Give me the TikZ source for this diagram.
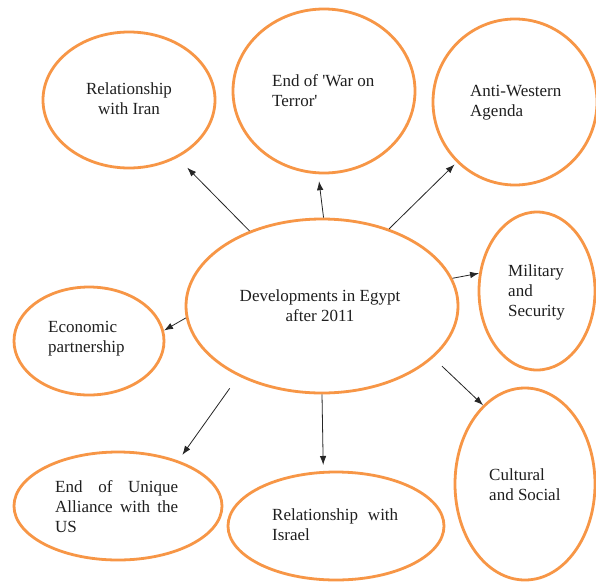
\documentclass[tikz,border=0pt]{standalone}
\usepackage{fontspec}
\setmainfont{Liberation Serif}
\usetikzlibrary{shapes.geometric,arrows.meta}
\definecolor{eorange}{RGB}{247,150,70}
\begin{document}
\begin{tikzpicture}[x=1pt,y=-1pt,
  bub/.style={ellipse,draw=eorange,line width=2.8pt,inner sep=0pt},
  txt/.style={inner sep=0pt,text=black!88,font=\fontsize{17}{20}\selectfont},
  arr/.style={-{Latex[length=9pt,width=6.5pt]},line width=0.8pt,draw=black!85}]
\useasboundingbox[fill=white] (0,0) rectangle (596,581);
\node[bub,minimum width=172pt,minimum height=136pt] (iran) at (129,100) {};
\node[txt,align=center] (iran-t) at (129,99) {Relationship\\with Iran};
\node[bub,minimum width=182pt,minimum height=164pt] (war) at (324,91) {};
\node[txt,align=left,anchor=west] (war-t) at (272,91) {End of \textquotesingle War on\\Terror\textquotesingle};
\node[bub,minimum width=164pt,minimum height=166pt] (anti) at (515,102) {};
\node[txt,align=left,anchor=west] (anti-t) at (470,103) {Anti-Western\\Agenda};
\node[bub,minimum width=116pt,minimum height=158pt] (mil) at (537,291) {};
\node[txt,align=left,anchor=west] (mil-t) at (508,292) {Military\\and\\Security};
\node[bub,minimum width=272pt,minimum height=174pt] (c) at (322,306) {};
\node[txt,align=center] (c-t) at (320,306) {Developments in Egypt\\after 2011};
\node[bub,minimum width=150pt,minimum height=108pt] (econ) at (89,341) {};
\node[txt,align=left,anchor=west] (econ-t) at (48,339) {Economic\\partnership};
\node[bub,minimum width=208pt,minimum height=108pt] (uniq) at (118,506) {};
\node[txt,align=left,anchor=west] (uniq-t) at (55,507) {\makebox[123pt][s]{End of Unique}\\\makebox[123pt][s]{Alliance with the}\\US};
\node[bub,minimum width=216pt,minimum height=108pt] (isr) at (336,526) {};
\node[txt,align=left,anchor=west] (isr-t) at (272,525) {\makebox[126pt][s]{Relationship with}\\Israel};
\node[bub,minimum width=140pt,minimum height=192pt] (cult) at (525,484) {};
\node[txt,align=left,anchor=west] (cult-t) at (489,485) {Cultural\\and Social};
\draw[arr,shorten >=14pt] (c.134) -- (iran.-50);
\draw[arr,shorten >=7pt] (c.89) -- (war.-94);
\draw[arr,shorten >=3pt] (c.49) -- (anti.-134);
\draw[arr] (c.12) -- (mil.163);
\draw[arr] (c.-175) -- (econ.8);
\draw[arr,shorten <=15pt,shorten >=7pt] (c.-140) -- (uniq.37);
\draw[arr,shorten >=6pt] (c.-90) -- (isr.103);
\draw[arr,shorten <=12pt] (c.-25) -- (cult.118);
\end{tikzpicture}
\end{document}
